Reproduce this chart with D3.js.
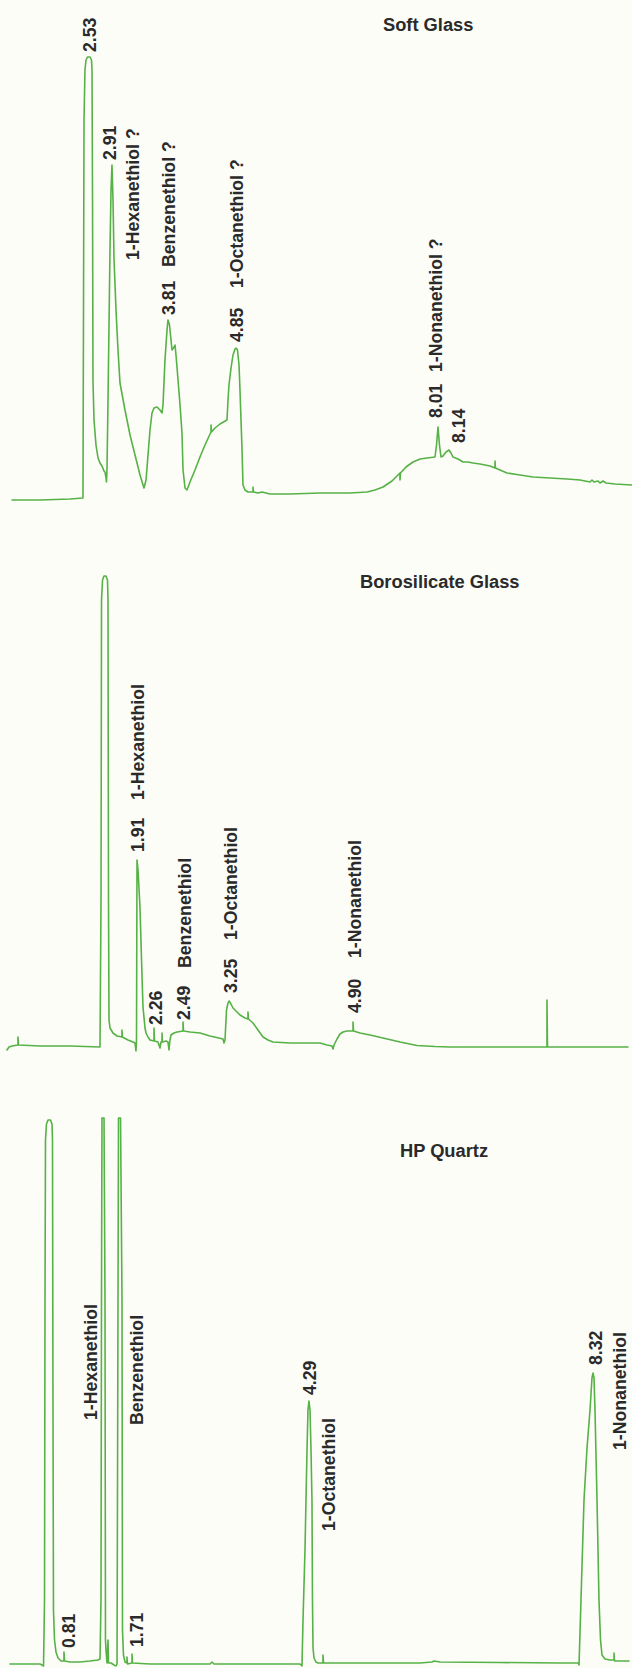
<!DOCTYPE html>
<html>
<head>
<meta charset="utf-8">
<script src="https://cdn.jsdelivr.net/npm/d3@7"></script>
<style>
  html, body { margin: 0; padding: 0; background: #fdfdf8; }
  svg { display: block; }
</style>
</head>
<body>
<script>
// ---------------- DATA (time in min, detector signal in mV) ----------------
const panelTitles = ["Soft Glass", "Borosilicate Glass", "HP Quartz"];

// Soft Glass chromatogram [time, signal]
const softTrace = [
  [1.344,0],[1.781,0],[2.250,0.25],[2.453,0.5],[2.469,95],[2.484,107.5],[2.500,110],[2.523,110.75],
  [2.563,110.75],[2.586,110],[2.594,107.5],[2.602,75],[2.609,30],[2.625,20],[2.656,13.75],[2.688,10.5],
  [2.719,9.25],[2.750,8.5],[2.781,7.25],[2.797,7],[2.813,5.5],[2.820,4.5],[2.828,7.5],[2.844,25],
  [2.875,62.5],[2.891,77.5],[2.906,83.75],[2.922,75],[2.938,60],[2.969,47.5],[3.000,37.5],[3.031,29.25],
  [3.109,22.5],[3.188,16.25],[3.266,11.25],[3.344,6.25],[3.406,3],[3.438,5],[3.469,11.25],[3.500,17.5],
  [3.531,21.75],[3.563,23],[3.609,23.25],[3.656,22.5],[3.688,21.75],[3.703,23.75],[3.734,35],[3.766,42.5],
  [3.781,45],[3.805,43.75],[3.828,40],[3.844,37.5],[3.867,38],[3.891,38.75],[3.906,36.25],[3.938,30],
  [3.969,23.75],[4.000,16.75],[4.016,7.5],[4.047,3],[4.078,2.5],[4.125,4.5],[4.203,7.5],[4.281,10.75],
  [4.359,13.75],[4.453,17],[4.453,18.75],[4.461,17],[4.516,18],[4.594,19],[4.703,20],[4.719,25],
  [4.734,28.75],[4.766,33],[4.797,36.25],[4.828,37.75],[4.844,38],[4.867,37.5],[4.891,33.75],[4.906,27.5],
  [4.922,20],[4.938,12.5],[4.953,3.75],[4.984,2.5],[5.031,2],[5.109,2],[5.109,3.25],[5.117,2],
  [5.188,1.75],[5.25,2],[5.375,1.5],[5.688,1.5],[6.156,1.75],[6.625,1.75],[6.891,2],[7.016,2.5],
  [7.141,3.25],[7.281,4.75],[7.406,6.75],[7.406,5],[7.414,6.75],[7.5,8.25],[7.609,9.5],[7.719,10.25],
  [7.828,10.5],[7.953,10.75],[7.977,13.75],[8.000,18.25],[8.023,13.75],[8.047,10.75],[8.078,11],[8.125,12],
  [8.172,12.5],[8.203,11.75],[8.234,10.75],[8.313,10.25],[8.391,9.5],[8.469,9.5],[8.547,9.25],[8.656,9],
  [8.813,8.5],[8.891,8],[8.891,9.75],[8.898,8],[8.969,7.5],[9.078,6.75],[9.281,6.25],[9.484,5.75],
  [9.75,5.5],[10.016,5.25],[10.219,5],[10.375,4.5],[10.406,5],[10.438,4.5],[10.5,4.75],[10.531,4.25],
  [10.578,4.75],[10.625,4.25],[10.766,4],[11.031,3.75]
];
// [text, time, signal at label start]
const softLabels = [
  ["2.53",2.562,112],["2.91",2.875,85],["1-Hexanethiol ?",3.234,60],
  ["3.81",3.789,46.25],["Benzenethiol ?",3.789,58.25],
  ["4.85",4.852,39.5],["1-Octanethiol ?",4.852,53],
  ["8.01",7.961,20.5],["1-Nonanethiol ?",7.961,32],["8.14",8.32,14.25]
];

// Borosilicate Glass chromatogram [time, signal]
const boroTrace = [
  [0.097,-0.5],[0.125,0.25],[0.167,0.5],[0.25,0.75],[0.25,2.75],[0.257,0.75],[0.556,0.5],[0.972,0.5],
  [1.389,0.25],[1.403,37],[1.410,112],[1.424,117],[1.444,118],[1.472,118],[1.493,117],[1.5,112],
  [1.507,37],[1.514,7],[1.528,5],[1.569,3.75],[1.625,3],[1.694,2.75],[1.694,4.5],[1.701,2.75],
  [1.778,2],[1.847,1.5],[1.875,1.25],[1.889,-0.75],[1.896,2],[1.903,47],[1.917,44.5],[1.944,35.25],
  [1.972,18.25],[1.986,10.25],[2.014,5],[2.028,3.75],[2.056,2.75],[2.083,2],[2.139,1.75],[2.139,5],
  [2.146,1.75],[2.194,1.5],[2.222,0],[2.236,1.5],[2.25,1.5],[2.25,3.75],[2.257,1.5],[2.306,1.75],
  [2.333,1.5],[2.347,-0.5],[2.361,2],[2.375,3.25],[2.417,3.75],[2.458,4],[2.542,4.25],[2.542,6.5],
  [2.549,4.25],[2.639,4],[2.778,3.75],[2.917,3],[3.097,2.25],[3.111,1.25],[3.125,2],[3.146,9.5],
  [3.167,11.25],[3.181,11.75],[3.208,11],[3.236,10],[3.292,9],[3.333,8.25],[3.403,7.5],[3.444,7.25],
  [3.444,9],[3.451,7.25],[3.514,6.25],[3.583,4.5],[3.653,2.75],[3.722,2],[3.792,1.5],[4.028,1.25],
  [4.444,1.25],[4.542,0.75],[4.611,0.5],[4.625,-0.25],[4.639,0.75],[4.681,2.25],[4.722,3.5],[4.764,4],
  [4.819,4.25],[4.875,4.25],[4.903,4.25],[4.903,6.5],[4.910,4.25],[5.0,3.75],[5.139,3.25],[5.319,2.5],
  [5.556,1.5],[5.792,0.625],[6.042,0.375],[6.25,0.25],[6.944,0.25],[7.597,0.25],[7.597,12],[7.604,0.25],
  [8.333,0.25],[8.722,0.25]
];
const boroLabels = [
  ["1.91",1.910,49],["1-Hexanethiol",1.910,62],["2.26",2.160,5.75],
  ["2.49",2.556,7],["Benzenethiol",2.562,20],
  ["3.25",3.201,13.75],["1-Octanethiol",3.201,27],
  ["4.90",4.924,8.75],["1-Nonanethiol",4.924,22.5]
];

// HP Quartz chromatogram [time, signal]
const quartzTrace = [
  [0,0.25],[0.429,0.25],[0.457,0],[0.479,-0.25],[0.493,16.25],[0.5,91.25],[0.507,131.25],[0.521,135.25],
  [0.543,136.25],[0.579,136.25],[0.6,135.25],[0.607,131.25],[0.614,66.25],[0.621,13.75],[0.636,6.25],[0.657,3.25],
  [0.686,1.75],[0.729,1],[0.771,1],[0.771,3.25],[0.779,1],[0.857,0.75],[1.0,0.75],[1.143,1],
  [1.257,1.25],[1.286,1.5],[1.3,16.25],[1.307,91.25],[1.314,136.75],[1.343,136.75],[1.357,91.25],[1.364,6.25],
  [1.371,3.75],[1.386,0.5],[1.4,6.25],[1.407,0.5],[1.443,0.5],[1.486,0],[1.514,-0.25],[1.529,0.25],
  [1.543,91.25],[1.55,136.75],[1.579,136.75],[1.6,91.25],[1.607,8.75],[1.621,2.5],[1.643,0.75],[1.671,0.5],
  [1.671,2],[1.679,0.25],[1.743,0.5],[1.743,2.75],[1.75,0.5],[2.0,0.25],[2.429,0.25],[2.857,0.25],
  [2.886,0.75],[2.914,0.25],[3.429,0.25],[3.857,0.25],[4.143,0.25],[4.171,-0.25],[4.186,11.25],[4.214,28.75],
  [4.243,53.75],[4.257,63.75],[4.271,66],[4.286,63.75],[4.3,53.75],[4.314,41.25],[4.321,16.25],[4.329,4.25],
  [4.343,1.75],[4.371,0.75],[4.4,0.5],[4.471,0.5],[4.471,2.5],[4.479,0.5],[4.714,0.5],[5.286,0.5],
  [5.857,0.5],[6.029,0.75],[6.057,1],[6.143,0.75],[7.0,0.625],[7.857,0.5],[8.114,0.5],[8.129,0],
  [8.157,16.25],[8.2,41.25],[8.243,54.25],[8.286,63.75],[8.314,71.75],[8.329,73],[8.343,71.75],[8.357,63.75],
  [8.386,41.25],[8.414,16.25],[8.436,6.25],[8.457,2.5],[8.5,1.5],[8.571,1.25],[8.629,1.25],[8.629,3],
  [8.636,1],[8.714,1],[8.843,1]
];
const quartzLabels = [
  ["0.81",0.836,4.25],["1-Hexanethiol",1.15,61.25],["Benzenethiol",1.814,60],["1.71",1.807,4.5],
  ["4.29",4.286,67.5],["1-Octanethiol",4.557,33.5],["8.32",8.371,75],["1-Nonanethiol",8.714,53.75]
];

// ---------------- LAYOUT ----------------
const W = 632, H = 1668;
const layout = [
  { trace: softTrace,   labels: softLabels,   xd: [2, 11], xr: [54, 630], base: 500,  titleX: 383, titleY: 31 },
  { trace: boroTrace,   labels: boroLabels,   xd: [0, 8.75], xr: [0, 630], base: 1048, titleX: 360, titleY: 588 },
  { trace: quartzTrace, labels: quartzLabels, xd: [0, 9], xr: [10, 640],  base: 1665, titleX: 400, titleY: 1157 }
];

const svg = d3.select("body").append("svg")
  .attr("width", W).attr("height", H)
  .attr("viewBox", `0 0 ${W} ${H}`);

svg.append("rect").attr("width", W).attr("height", H).attr("fill", "#fdfdf8");

const lineColor = "#56b146";
const textColor = "#2a2a2a";
const font = "'Liberation Sans', Arial, Helvetica, sans-serif";

layout.forEach((p, i) => {
  const x = d3.scaleLinear().domain(p.xd).range(p.xr);
  const y = d3.scaleLinear().domain([0, 100]).range([p.base, p.base - 400]);
  const g = svg.append("g");

  const line = d3.line().x(d => x(d[0])).y(d => y(d[1])).curve(d3.curveLinear);
  g.append("path")
    .datum(p.trace)
    .attr("d", line)
    .attr("fill", "none")
    .attr("stroke", lineColor)
    .attr("stroke-width", 1.6)
    .attr("stroke-linejoin", "round")
    .attr("stroke-linecap", "round");

  g.selectAll("text.lbl")
    .data(p.labels)
    .join("text")
    .attr("class", "lbl")
    .attr("transform", d => `translate(${x(d[1])},${y(d[2])}) rotate(-90)`)
    .attr("dy", "0.35em")
    .attr("text-anchor", "start")
    .attr("font-family", font)
    .attr("font-weight", "bold")
    .attr("font-size", "17.7px")
    .attr("fill", textColor)
    .text(d => d[0]);

  g.append("text")
    .attr("x", p.titleX).attr("y", p.titleY)
    .attr("font-family", font)
    .attr("font-weight", "bold")
    .attr("font-size", "18.3px")
    .attr("fill", textColor)
    .text(panelTitles[i]);
});
</script>
</body>
</html>
